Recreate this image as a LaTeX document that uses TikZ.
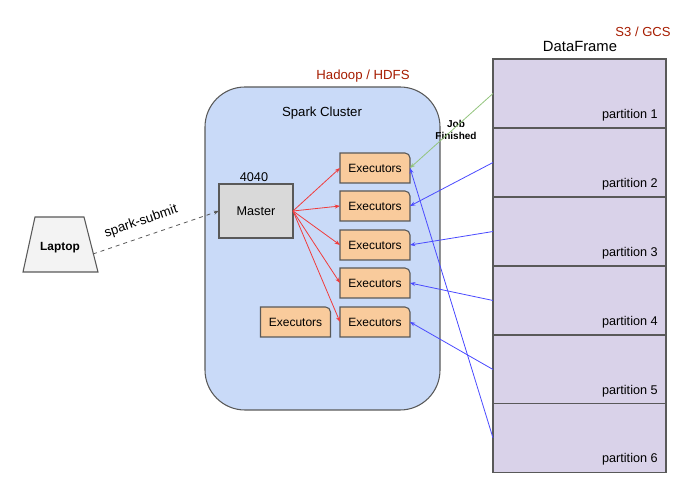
\documentclass[tikz,border=0pt]{standalone}
\usepackage{fontspec}
\setmainfont{Liberation Sans}
\usetikzlibrary{arrows.meta,calc}
\definecolor{clusterblue}{HTML}{C9DAF8}
\definecolor{execorange}{HTML}{F9CB9C}
\definecolor{partpurple}{HTML}{D9D2E9}
\definecolor{laptopgray}{HTML}{F3F3F3}
\definecolor{mastergray}{HTML}{D9D9D9}
\definecolor{bordergray}{HTML}{595959}
\definecolor{labelred}{HTML}{A61C00}
\definecolor{arrowred}{HTML}{F03C3C}
\definecolor{arrowblue}{HTML}{4A4AFF}
\definecolor{arrowgreen}{HTML}{93C47D}
\tikzset{
  outline/.style={draw=bordergray, line width=0.8pt},
  execshape/.style={outline, fill=execorange},
  execnode/.style={inner sep=0pt, outer sep=0pt, minimum width=52.5pt, minimum height=22.5pt, font=\fontsize{9}{10}\selectfont},
  partbox/.style={outline, fill=partpurple, inner sep=0pt, outer sep=0pt, minimum width=129.75pt, minimum height=51.75pt},
  partlabel/.style={font=\fontsize{9.5}{11}\selectfont, anchor=south east, inner sep=0pt},
  tip/.style={-{Stealth[length=4pt,width=3pt]}, line width=0.6pt},
  redarrow/.style={tip, draw=arrowred},
  bluearrow/.style={tip, draw=arrowblue},
  greenarrow/.style={tip, draw=arrowgreen},
}
\newcommand\execbox[3]{%
  \path[execshape] (#2-35,#3-15) -- (#2-35,#3+15) -- (#2+30,#3+15) to[out=0,in=90] (#2+35,#3+10) -- (#2+35,#3-15) -- cycle;
  \node[execnode] (#1) at (#2,#3) {Executors};}
\begin{document}
\begin{tikzpicture}[x=0.75pt,y=0.75pt]
\useasboundingbox (0,0) rectangle (689,489);
% Laptop
\path[outline, fill=laptopgray] (23,217) -- (98,217) -- (84,272) -- (35,272) -- cycle;
\node[font=\bfseries\fontsize{8.9}{10}\selectfont] (laptop) at (60,241) {Laptop};
\coordinate (laptopout) at (93,235);
% Cluster
\path[outline, fill=clusterblue, rounded corners=30pt] (205,79) rectangle (440,402);
\node[font=\fontsize{9.9}{11}\selectfont, text=labelred] (hadoop) at (363,413) {Hadoop / HDFS};
\node[font=\fontsize{9.9}{11}\selectfont] (cluster) at (322,376) {Spark Cluster};
% Master
\node[outline, fill=mastergray, minimum width=55.5pt, minimum height=40.5pt, inner sep=0pt, outer sep=0pt, font=\fontsize{9.5}{11}\selectfont] (master) at (256,278) {Master};
\node[font=\fontsize{9.5}{11}\selectfont] (port) at (254,312) {4040};
% Executors
\execbox{e1}{375}{321}
\execbox{e2}{375}{283}
\execbox{e3}{375}{244}
\execbox{e4}{375}{206}
\execbox{e5}{375}{167}
\execbox{e6}{295.5}{167}
% DataFrame
\node[partbox] (p1) at (579.5,395.5) {};
\node[partbox] (p2) at (579.5,326.5) {};
\node[partbox] (p3) at (579.5,257.5) {};
\node[partbox] (p4) at (579.5,188.5) {};
\node[partbox] (p5) at (579.5,119.5) {};
\node[partbox] (p6) at (579.5,51) {};
\node[partlabel] (l1) at ([xshift=-6pt,yshift=5pt]p1.south east) {partition 1};
\node[partlabel] (l2) at ([xshift=-6pt,yshift=5pt]p2.south east) {partition 2};
\node[partlabel] (l3) at ([xshift=-6pt,yshift=5pt]p3.south east) {partition 3};
\node[partlabel] (l4) at ([xshift=-6pt,yshift=5pt]p4.south east) {partition 4};
\node[partlabel] (l5) at ([xshift=-6pt,yshift=5pt]p5.south east) {partition 5};
\node[partlabel] (l6) at ([xshift=-6pt,yshift=5pt]p6.south east) {partition 6};
\node[font=\fontsize{11.1}{13}\selectfont] (df) at (580,443) {DataFrame};
\node[font=\fontsize{9.8}{11}\selectfont, text=labelred] (s3) at (643,457) {S3 / GCS};
\node[font=\bfseries\fontsize{7.5}{9}\selectfont, align=center] (job) at (456,359) {Job\\Finished};
% Connectors
\draw[tip, dashed, draw=bordergray] (laptopout) -- node[pos=0.42, sloped, above=3pt, font=\fontsize{10}{12}\selectfont, text=black] {spark-submit} (master.west);
\foreach \e in {e1,e2,e3,e4,e5} \draw[redarrow] (master.east) -- (\e.west);
\draw[greenarrow] (p1.west) -- (e1.east);
\draw[bluearrow] (p2.west) -- (e2.east);
\draw[bluearrow] (p3.west) -- (e3.east);
\draw[bluearrow] (p4.west) -- (e4.east);
\draw[bluearrow] (p5.west) -- (e5.east);
\draw[bluearrow] (p6.west) -- (e1.east);
\end{tikzpicture}
\end{document}
